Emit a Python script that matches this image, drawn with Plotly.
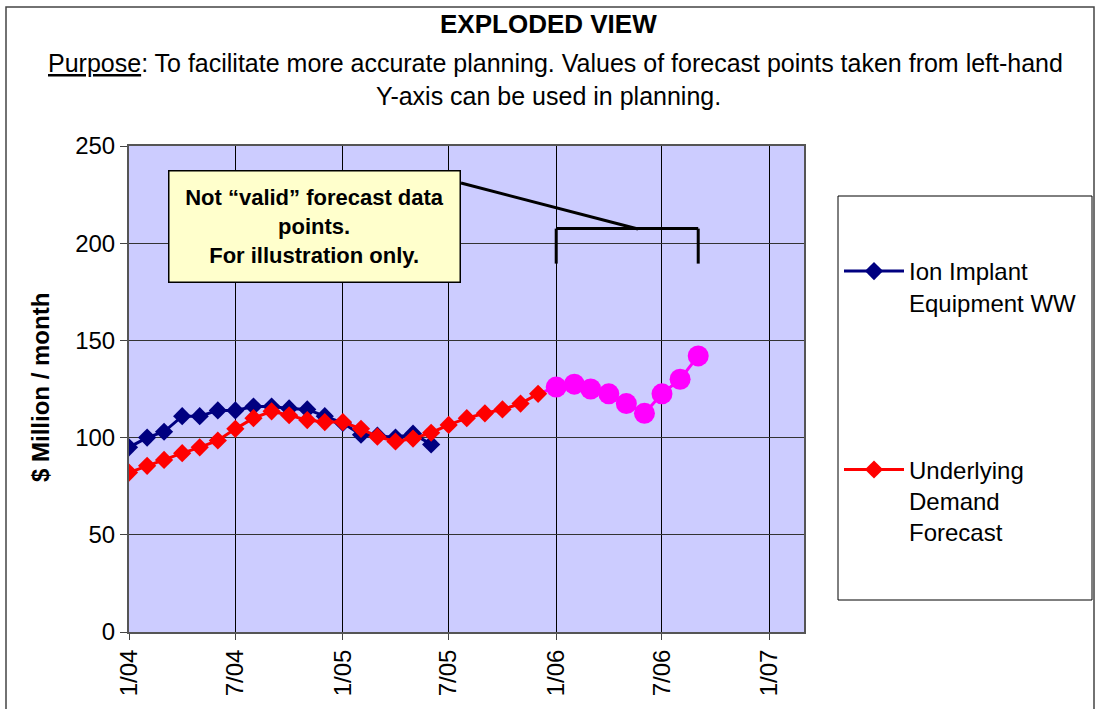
import pandas as pd
import plotly.graph_objects as go

# ---------------- data ----------------
ion_implant = [95, 100, 103, 111, 111, 114, 114, 116, 116, 115, 114.5, 111,
               107.5, 101.5, 101, 100, 102, 96.5]                      # 1/04 .. 6/05
demand = [82, 85.5, 88.5, 92, 95, 98.5, 104.5, 110, 113.5, 111.5, 109, 108,
          108, 104.5, 100.5, 98, 99.5, 102.5, 106.5, 110, 112.5, 114.5, 117.5, 122.5,
          126, 127.5, 125, 122.5, 117.5, 112.5, 122.5, 130, 142]         # 1/04 .. 9/06
forecast_start = 24          # index of 1/06: "exploded" forecast points start here
start_month = "2004-01-01"

tick_dates = ["2004-01-01", "2004-07-01", "2005-01-01", "2005-07-01",
              "2006-01-01", "2006-07-01", "2007-01-01"]
tick_labels = ["1/04", "7/04", "1/05", "7/05", "1/06", "7/06", "1/07"]
y_ticks = [0, 50, 100, 150, 200, 250]

ion_dates = pd.date_range(start_month, periods=len(ion_implant), freq="MS")
dem_dates = pd.date_range(start_month, periods=len(demand), freq="MS")

FONT = "Arial, Liberation Sans, sans-serif"

# pixel geometry of plot area
L, R, T, B = 129, 804, 146, 632
W, H = 1096, 709


def px_x(px):
    return (px - L) / (R - L)


def px_y(py):
    return (B - py) / (B - T)


fig = go.Figure()

# forecast (magenta) part, drawn first so the red diamond sits on top
fc_x = dem_dates[forecast_start - 1:]
fc_y = demand[forecast_start - 1:]
fig.add_trace(go.Scatter(
    x=fc_x, y=fc_y, mode="lines+markers", showlegend=False,
    line=dict(color="#FF00FF", width=3),
    marker=dict(symbol="circle", size=[0] + [21] * (len(fc_y) - 1), color="#FF00FF",
                opacity=1, line=dict(width=0)),
    hoverinfo="skip"))

fig.add_trace(go.Scatter(
    x=ion_dates, y=ion_implant, mode="lines+markers",
    name="Ion Implant<br>Equipment WW", legendgroup="a",
    line=dict(color="#000080", width=3),
    marker=dict(symbol="diamond", size=14, color="#000080", opacity=1)))

fig.add_trace(go.Scatter(
    x=dem_dates[:forecast_start], y=demand[:forecast_start], mode="lines+markers",
    name="Underlying<br>Demand<br>Forecast", legendgroup="b",
    line=dict(color="#FF0000", width=3),
    marker=dict(symbol="diamond", size=14, color="#FF0000", opacity=1)))

shapes = [
    # outer chart border
    dict(type="rect", xref="paper", yref="paper",
         x0=px_x(6), x1=px_x(1094), y0=px_y(715), y1=px_y(7),
         line=dict(color="#444444", width=1.5), layer="below"),
    # legend box
    dict(type="rect", xref="paper", yref="paper",
         x0=px_x(838), x1=px_x(1092), y0=px_y(600), y1=px_y(196),
         line=dict(color="black", width=1), fillcolor="white", layer="below"),
    # bracket over forecast points
    dict(type="line", xref="x", yref="y", x0=fc_x[1], x1=fc_x[-1], y0=207.5, y1=207.5,
         line=dict(color="black", width=3)),
    dict(type="line", xref="x", yref="y", x0=fc_x[1], x1=fc_x[1], y0=207.5, y1=189.5,
         line=dict(color="black", width=3)),
    dict(type="line", xref="x", yref="y", x0=fc_x[-1], x1=fc_x[-1], y0=207.5, y1=189.5,
         line=dict(color="black", width=3)),
    # callout line
    dict(type="line", xref="paper", yref="paper",
         x0=px_x(461), y0=px_y(183), x1=px_x(638), y1=px_y(229),
         line=dict(color="black", width=3)),
]

annotations = [
    dict(text="<b>EXPLODED VIEW</b>", x=px_x(548), y=px_y(24), xref="paper", yref="paper",
         xanchor="center", yanchor="middle",
         showarrow=False, font=dict(family=FONT, size=26, color="black")),
    dict(text="<u>Purpose</u>: To facilitate more accurate planning. Values of forecast points taken from left-hand",
         x=px_x(555), y=px_y(63), xref="paper", yref="paper",
         xanchor="center", yanchor="middle",
         showarrow=False, font=dict(family=FONT, size=25, color="black")),
    dict(text="Y-axis can be used in planning.",
         x=px_x(548), y=px_y(96), xref="paper", yref="paper",
         xanchor="center", yanchor="middle",
         showarrow=False, font=dict(family=FONT, size=25, color="black")),
    dict(text="<b>$ Million / month</b>", x=px_x(40), y=px_y(388), xref="paper", yref="paper",
         xanchor="center", yanchor="middle",
         textangle=-90, showarrow=False, font=dict(family=FONT, size=24, color="black")),
    dict(text="<b>Not “valid” forecast data<br>points.<br>For illustration only.</b>",
         x=px_x(314), y=px_y(226.5), xref="paper", yref="paper", showarrow=False,
         xanchor="center", yanchor="middle",
         width=282, height=102, bgcolor="#FFFFCC", bordercolor="black",
         borderwidth=1.5, borderpad=4, align="center",
         font=dict(family=FONT, size=22, color="black")),
]

fig.update_layout(
    width=W, height=H,
    margin=dict(l=L, r=W - R, t=T, b=H - B, pad=0),
    paper_bgcolor="white", plot_bgcolor="#CCCCFF",
    font=dict(family=FONT, size=24, color="black"),
    shapes=shapes, annotations=annotations,
    legend=dict(x=px_x(839), y=px_y(249), xanchor="left", yanchor="top",
                bgcolor="rgba(0,0,0,0)", font=dict(family=FONT, size=24, color="black"),
                tracegroupgap=133, valign="top", itemwidth=60),
    showlegend=True,
)

fig.update_xaxes(
    type="date", range=["2004-01-01", "2007-03-01"],
    tickvals=tick_dates, ticktext=tick_labels, tickangle=-90,
    tickfont=dict(family=FONT, size=24, color="black"),
    showgrid=True, gridcolor="black", gridwidth=1,
    ticks="outside", ticklen=6, tickcolor="#444444",
    showline=True, linecolor="#555555", linewidth=2, mirror=True, zeroline=False)

fig.update_yaxes(
    range=[0, 250], tickvals=y_ticks,
    tickfont=dict(family=FONT, size=24, color="black"),
    showgrid=True, gridcolor="#333333", gridwidth=1,
    ticks="outside", ticklen=7, tickcolor="#444444",
    showline=True, linecolor="#555555", linewidth=2, mirror=True, zeroline=False)

fig.write_html("out.html", config={"displayModeBar": False},
               post_script="document.body.style.margin='0px';document.body.style.overflow='hidden';")
